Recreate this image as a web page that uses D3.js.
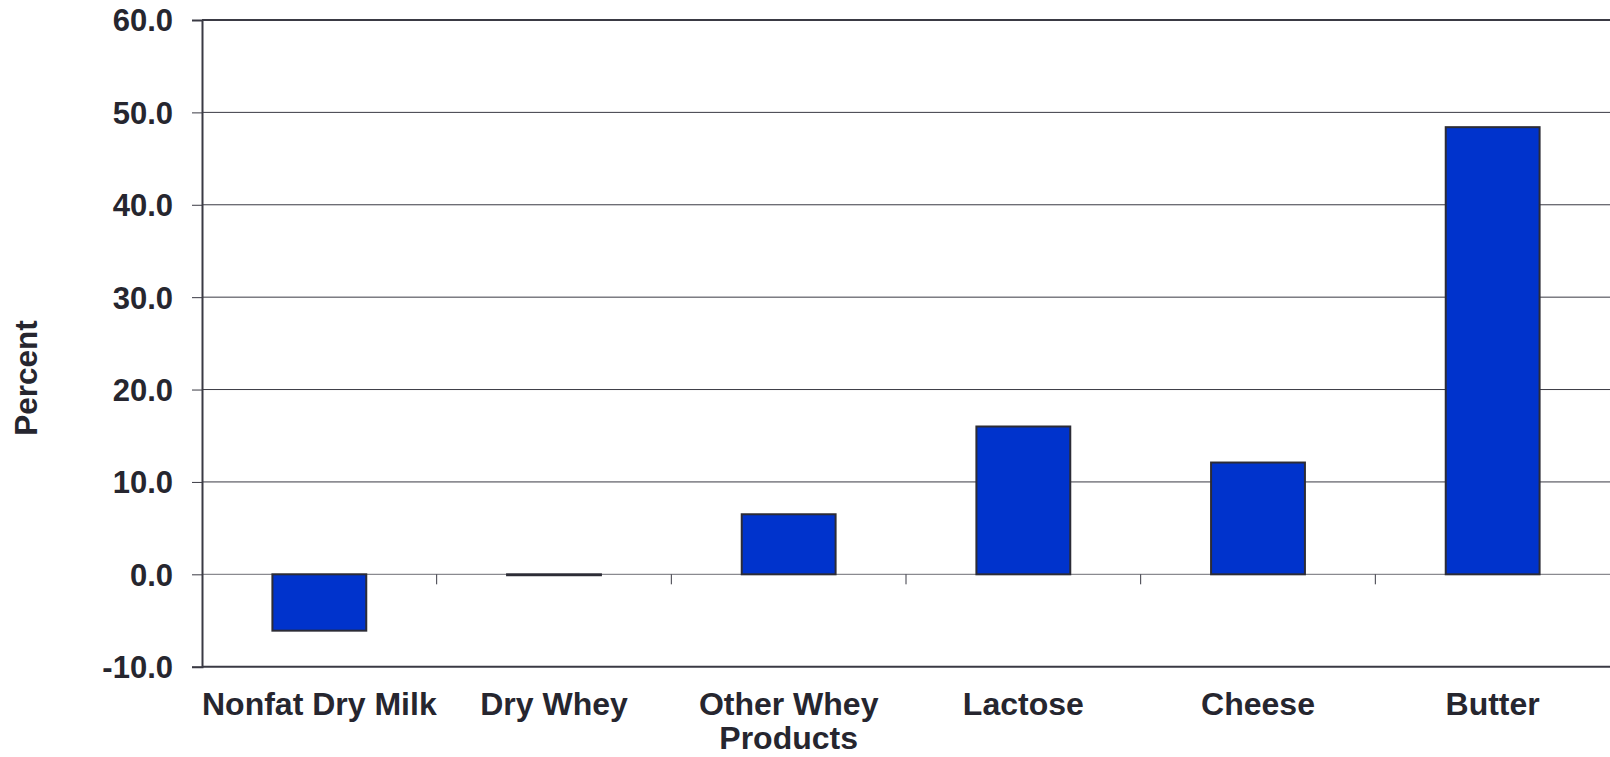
<!DOCTYPE html>
<html>
<head>
<meta charset="utf-8">
<script src="https://cdn.jsdelivr.net/npm/d3@7"></script>
<style>
  html, body { margin: 0; padding: 0; background: #ffffff; }
  svg { display: block; }
  text { font-family: "Liberation Sans", Arial, sans-serif; font-weight: bold; fill: #26262f; }
</style>
</head>
<body>
<svg id="chart" width="1610" height="757"></svg>
<script>
// Percent change by dairy product
const categories = [["Nonfat Dry Milk"], ["Dry Whey"], ["Other Whey", "Products"], ["Lactose"], ["Cheese"], ["Butter"]];
const values = [-6.1, -0.1, 6.5, 16.0, 12.1, 48.4];
const yTicks = [-10, 0, 10, 20, 30, 40, 50, 60];
const yLabel = "Percent";

const plotLeft = 202, plotRight = 1610, plotTop = 20, plotBottom = 666.7;

const svg = d3.select("#chart");
const keys = categories.map(c => c.join(" "));

const x = d3.scaleBand().domain(keys).range([plotLeft, plotRight]).paddingInner(0.6).paddingOuter(0.3);
const y = d3.scaleLinear().domain([-10, 60]).range([plotBottom, plotTop]);

// horizontal gridlines
svg.append("g").selectAll("line")
  .data(yTicks.filter(t => t > 0 && t < 60))
  .join("line")
  .attr("x1", plotLeft).attr("x2", plotRight)
  .attr("y1", d => y(d)).attr("y2", d => y(d))
  .attr("stroke", "#3a3a44").attr("stroke-width", 1);

// zero baseline
svg.append("line")
  .attr("x1", plotLeft).attr("x2", plotRight)
  .attr("y1", y(0)).attr("y2", y(0))
  .attr("stroke", "#8a8a90").attr("stroke-width", 1.2);

// category separator ticks on the baseline
const step = x.step();
svg.append("g").selectAll("line")
  .data(d3.range(1, keys.length))
  .join("line")
  .attr("x1", i => plotLeft + i * step).attr("x2", i => plotLeft + i * step)
  .attr("y1", y(0)).attr("y2", y(0) + 10)
  .attr("stroke", "#3a3a44").attr("stroke-width", 1);

// bars
svg.append("g").selectAll("rect")
  .data(values)
  .join("rect")
  .attr("x", (d, i) => x(keys[i]))
  .attr("width", x.bandwidth())
  .attr("y", d => y(Math.max(0, d)))
  .attr("height", d => Math.abs(y(d) - y(0)))
  .attr("fill", "#0033cc")
  .attr("stroke", "#2c2c36").attr("stroke-width", 2);

// plot frame: top and bottom edges
svg.append("line").attr("x1", plotLeft).attr("x2", plotRight).attr("y1", y(60)).attr("y2", y(60))
  .attr("stroke", "#3a3a44").attr("stroke-width", 2);
svg.append("line").attr("x1", plotLeft).attr("x2", plotRight).attr("y1", y(-10)).attr("y2", y(-10))
  .attr("stroke", "#3a3a44").attr("stroke-width", 2);

// y axis (plain hyphen for negatives)
const fmt = d3.format(".1f");
const yAxis = d3.axisLeft(y).tickValues(yTicks).tickSize(10).tickPadding(20)
  .tickFormat(d => fmt(d).replace("\u2212", "-"));
const gy = svg.append("g").attr("transform", `translate(${plotLeft},0)`).call(yAxis);
gy.attr("font-family", null).attr("font-size", null);
gy.select(".domain").attr("stroke", "#3a3a44").attr("stroke-width", 2);
gy.selectAll(".tick line").attr("stroke", "#3a3a44").attr("stroke-width", 1);
gy.selectAll(".tick text")
  .attr("font-size", 31).attr("fill", "#26262f")
  .attr("x", -29).attr("dy", "0.35em");

// x category labels
svg.append("g").selectAll("text")
  .data(categories)
  .join("text")
  .attr("x", (d, i) => x(keys[i]) + x.bandwidth() / 2)
  .attr("y", 715)
  .attr("text-anchor", "middle")
  .attr("font-size", 32)
  .selectAll("tspan")
  .data(d => d)
  .join("tspan")
  .attr("x", function () { return this.parentNode.getAttribute("x"); })
  .attr("dy", (d, i) => i === 0 ? 0 : 34)
  .text(d => d);

// y axis title
svg.append("text")
  .attr("transform", `translate(37,378) rotate(-90)`)
  .attr("text-anchor", "middle")
  .attr("font-size", 31.5)
  .text(yLabel);
</script>
</body>
</html>
